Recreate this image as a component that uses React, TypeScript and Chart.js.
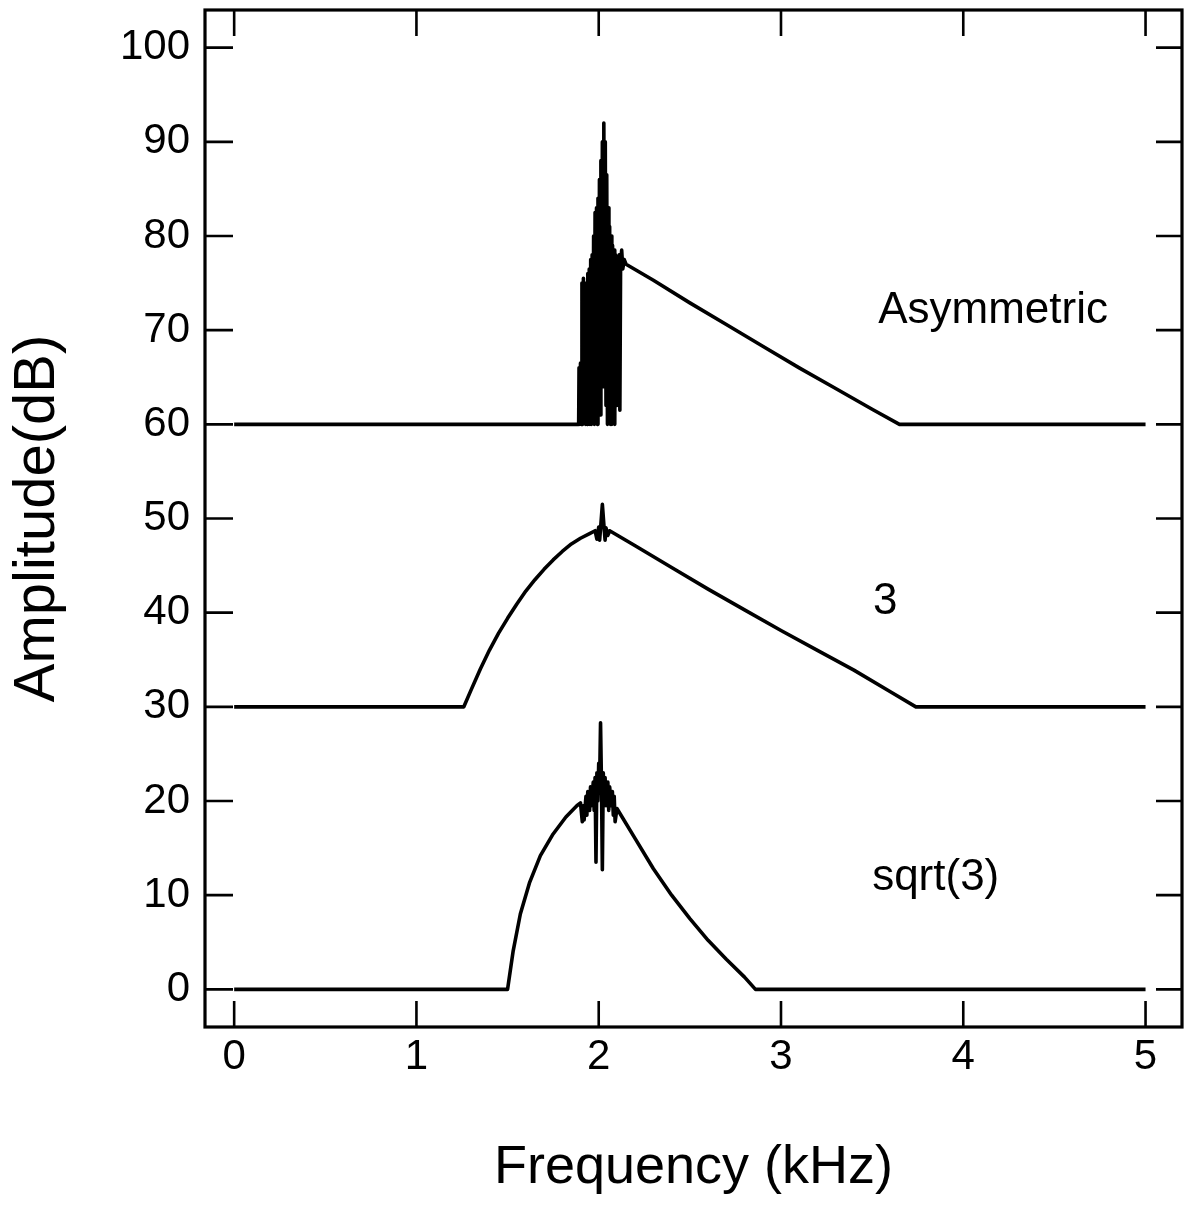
import React, { useEffect, useRef } from "react";
import { Chart, registerables } from "chart.js";

Chart.register(...registerables);

const FONT = "'Liberation Sans', Arial, Helvetica, sans-serif";

// Tick values
const xTickValues = [0, 1, 2, 3, 4, 5];
const yTickValues = [0, 10, 20, 30, 40, 50, 60, 70, 80, 90, 100];

// Curve "sqrt(3)" : [frequency kHz, amplitude dB]
const sqrt3Curve: [number, number][] = [
  [0, 0], [1.5, 0], [1.53, 4], [1.57, 8], [1.62, 11.3], [1.68, 14.2], [1.75, 16.5], [1.82, 18.3],
  [1.88, 19.5], [1.9, 19.8], [1.91, 17.8], [1.915, 19.5], [1.92, 18], [1.93, 20.5], [1.935, 18.5], [1.94, 21],
  [1.95, 19], [1.955, 21.5], [1.96, 19.5], [1.97, 22], [1.975, 19], [1.98, 22.5], [1.985, 13.5],
  [1.99, 23], [1.995, 20], [2.0, 24], [2.005, 22], [2.01, 28.3], [2.015, 22], [2.02, 12.7],
  [2.025, 23], [2.03, 20], [2.035, 22.5], [2.04, 19.5], [2.05, 22], [2.055, 19], [2.06, 21.5],
  [2.07, 19.5], [2.075, 21], [2.08, 18.5], [2.085, 20.5], [2.09, 17.8], [2.1, 19.2],
  [2.2, 16], [2.3, 12.8], [2.4, 10], [2.5, 7.5], [2.6, 5.2], [2.7, 3.2], [2.8, 1.3], [2.86, 0], [5.0, 0],
];

// Curve "3"
const threeCurve: [number, number][] = [
  [0, 30], [1.26, 30], [1.3, 31.8], [1.35, 34], [1.4, 36], [1.45, 37.8], [1.5, 39.4], [1.55, 40.9],
  [1.6, 42.3], [1.65, 43.5], [1.7, 44.6], [1.75, 45.6], [1.8, 46.5], [1.85, 47.3], [1.9, 47.9],
  [1.95, 48.4], [1.98, 48.7], [1.99, 47.8], [2.0, 49.1], [2.005, 47.7], [2.01, 48.9], [2.02, 51.5],
  [2.03, 48.9], [2.035, 47.7], [2.04, 49], [2.05, 48.2], [2.06, 48.7], [2.2, 47.1], [2.4, 44.8],
  [2.6, 42.5], [2.8, 40.3], [3.0, 38.1], [3.2, 36], [3.4, 33.9], [3.6, 31.6], [3.74, 30], [5.0, 30],
];

// Curve "Asymmetric"
const asymCurve: [number, number][] = [
  [0, 60], [1.89, 60], [1.892, 66], [1.896, 60], [1.9, 66.5], [1.904, 60], [1.908, 75], [1.912, 60],
  [1.916, 75.5], [1.92, 61], [1.924, 74.5], [1.928, 60], [1.932, 75], [1.936, 60], [1.94, 76],
  [1.944, 61], [1.948, 76.5], [1.952, 60], [1.956, 77.5], [1.96, 60], [1.964, 78], [1.968, 61],
  [1.972, 80], [1.976, 60], [1.98, 82.5], [1.984, 61], [1.988, 83], [1.992, 60], [1.996, 84],
  [2.0, 63], [2.004, 86], [2.008, 61], [2.012, 88], [2.016, 66], [2.02, 90], [2.024, 64],
  [2.028, 92], [2.032, 70], [2.036, 90], [2.04, 62], [2.044, 86.5], [2.048, 60], [2.052, 83],
  [2.056, 61], [2.06, 81], [2.064, 60], [2.068, 80], [2.072, 60], [2.076, 79], [2.08, 61],
  [2.084, 78.5], [2.088, 60], [2.092, 78], [2.096, 62], [2.1, 77.3], [2.106, 76.5], [2.112, 78],
  [2.116, 61.5], [2.12, 77], [2.126, 78.5], [2.132, 76.5], [2.14, 77.5], [2.15, 77],
  [2.3, 75.3], [2.5, 72.9], [2.7, 70.6], [2.9, 68.3], [3.1, 66], [3.3, 63.8], [3.5, 61.6],
  [3.65, 60], [5.0, 60],
];

// Curve labels and their anchors (kHz, dB)
const curveLabels = ["Asymmetric", "3", "sqrt(3)"];
const curveLabelFreq = [3.533, 3.505, 3.5];
const curveLabelDb = [72.1, 41.2, 11.8];

const toPoints = (c: [number, number][]) => c.map(([x, y]) => ({ x, y }));

const framePlugin = {
  id: "frameTicks",
  afterDraw(chart: any) {
    const { ctx, chartArea } = chart;
    const { left, right, top, bottom } = chartArea;
    const xs = chart.scales.x;
    const ys = chart.scales.y;
    ctx.save();
    ctx.strokeStyle = "#000";
    ctx.lineWidth = 3.2;
    ctx.strokeRect(left, top, right - left, bottom - top);
    ctx.lineWidth = 2.6;
    ctx.beginPath();
    for (const v of xTickValues) {
      const px = xs.getPixelForValue(v);
      ctx.moveTo(px, bottom);
      ctx.lineTo(px, bottom - 26);
      ctx.moveTo(px, top);
      ctx.lineTo(px, top + 26);
    }
    for (const v of yTickValues) {
      const py = ys.getPixelForValue(v);
      ctx.moveTo(left, py);
      ctx.lineTo(left + 28, py);
      ctx.moveTo(right, py);
      ctx.lineTo(right - 26, py);
    }
    ctx.stroke();
    ctx.fillStyle = "#000";
    ctx.textBaseline = "middle";
    ctx.textAlign = "left";
    ctx.font = `44px ${FONT}`;
    curveLabels.forEach((t, i) => {
      ctx.fillText(t, xs.getPixelForValue(curveLabelFreq[i]), ys.getPixelForValue(curveLabelDb[i]));
    });
    ctx.restore();
  },
};

export default function App() {
  const ref = useRef<HTMLCanvasElement>(null);
  useEffect(() => {
    const line = (d: [number, number][]) => ({
      data: toPoints(d),
      borderColor: "#000",
      borderWidth: 3.6,
      pointRadius: 0,
      tension: 0,
      borderJoinStyle: "round" as const,
      borderCapStyle: "butt" as const,
      fill: false,
    });
    const chart = new Chart(ref.current!, {
      type: "line",
      data: { datasets: [line(asymCurve), line(threeCurve), line(sqrt3Curve)] as any },
      options: {
        animation: false,
        responsive: false,
        maintainAspectRatio: false,
        layout: { padding: { left: 0, right: 6, top: 10, bottom: 0 } },
        plugins: { legend: { display: false }, tooltip: { enabled: false } },
        scales: {
          x: {
            type: "linear",
            min: -0.16,
            max: 5.2,
            afterBuildTicks: (s: any) => {
              s.ticks = xTickValues.map((v) => ({ value: v }));
            },
            afterFit: (s: any) => {
              s.height = 187;
              s.paddingLeft = 0;
              s.paddingRight = 0;
            },
            grid: { display: false, drawTicks: false },
            border: { display: false },
            ticks: {
              color: "#000",
              font: { family: FONT, size: 42 },
              padding: 5,
              maxRotation: 0,
              autoSkip: false,
              callback: (v: any) => String(v),
            },
            title: {
              display: true,
              text: "Frequency (kHz)",
              color: "#000",
              font: { family: FONT, size: 54 },
              padding: { top: 0, bottom: 13 },
            },
          },
          y: {
            type: "linear",
            min: -4,
            max: 104,
            afterBuildTicks: (s: any) => {
              s.ticks = yTickValues.map((v) => ({ value: v }));
            },
            afterFit: (s: any) => {
              s.width = 205;
              s.paddingTop = 0;
              s.paddingBottom = 0;
            },
            grid: { display: false, drawTicks: false },
            border: { display: false },
            ticks: {
              color: "#000",
              font: { family: FONT, size: 42 },
              padding: 15,
              autoSkip: false,
              callback: (v: any) => String(v),
            },
            title: {
              display: true,
              text: "Amplitude(dB)",
              color: "#000",
              font: { family: FONT, size: 58 },
              padding: { top: 3, bottom: 0 },
            },
          },
        },
      },
      plugins: [framePlugin],
    } as any);
    return () => chart.destroy();
  }, []);
  return (
    <div style={{ position: "absolute", left: 0, top: 0, width: 1188, height: 1214, background: "#fff" }}>
      <canvas ref={ref} width={1188} height={1214} style={{ display: "block" }} />
    </div>
  );
}
